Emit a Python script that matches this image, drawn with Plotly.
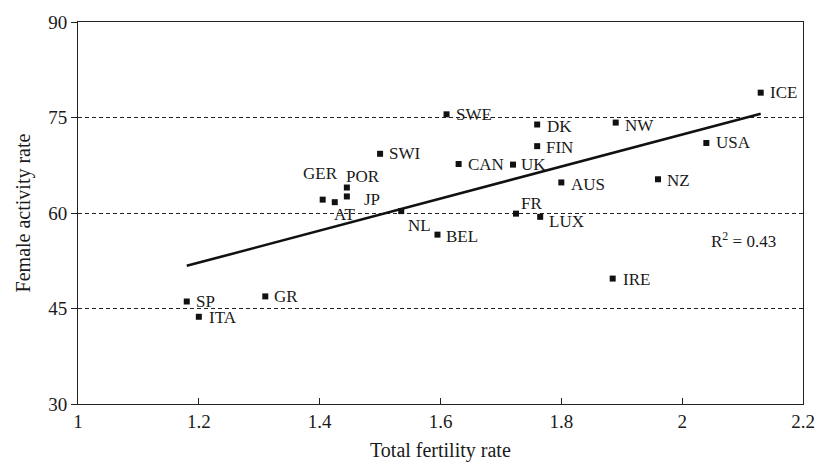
import plotly.graph_objects as go

# ---- data ----
countries = ["ICE", "SWE", "DK", "NW", "FIN", "USA", "SWI", "CAN", "UK", "AUS", "NZ",
             "POR", "JP", "GER", "AT", "NL", "FR", "LUX", "BEL", "IRE", "SP", "GR", "ITA"]
fertility = [2.13, 1.61, 1.76, 1.89, 1.76, 2.04, 1.50, 1.63, 1.72, 1.80, 1.96,
             1.445, 1.445, 1.405, 1.425, 1.535, 1.725, 1.765, 1.595, 1.885, 1.18, 1.31, 1.20]
activity = [78.9, 75.5, 73.9, 74.2, 70.5, 71.0, 69.3, 67.7, 67.6, 64.8, 65.3,
            64.0, 62.6, 62.1, 61.7, 60.3, 59.9, 59.4, 56.6, 49.7, 46.1, 46.9, 43.7]
fit_x = [1.18, 2.13]
fit_y = [51.7, 75.6]
r2_text = "R<sup>2</sup> = 0.43"
x_title = "Total fertility rate"
y_title = "Female activity rate"
x_ticks = [1, 1.2, 1.4, 1.6, 1.8, 2, 2.2]
x_tick_labels = ["1", "1.2", "1.4", "1.6", "1.8", "2", "2.2"]
y_ticks = [30, 45, 60, 75, 90]

# ---- label offsets (px): dx to text left edge, dy downward ----
offsets = {
    "ICE": (7, 0), "SWE": (7, 0), "DK": (8, 1.5), "NW": (7, 3), "FIN": (7, 1.5),
    "USA": (8, 0), "SWI": (7, 0), "CAN": (7, 1), "UK": (6, 0), "AUS": (8, 2),
    "NZ": (7, 1), "POR": (-3, -11), "JP": (15, 3), "GER": (-22, -26), "AT": (-3, 12),
    "NL": (5, 14), "FR": (3, -10), "LUX": (7, 5), "BEL": (7, 2), "IRE": (8, 1),
    "SP": (7, 0), "GR": (7, 0), "ITA": (8, 1),
}

FONT = "Liberation Serif, Times New Roman, serif"
TXT = "#1a1a1a"

fig = go.Figure()
fig.add_trace(go.Scatter(x=fit_x, y=fit_y, mode="lines",
                         line=dict(color="#111", width=2.6), hoverinfo="skip"))
fig.add_trace(go.Scatter(x=fertility, y=activity, mode="markers",
                         marker=dict(symbol="square", size=6, color="#111"),
                         text=countries, hoverinfo="text"))

annotations = []
for c, x, y in zip(countries, fertility, activity):
    dx, dy = offsets[c]
    annotations.append(dict(x=x, y=y, xref="x", yref="y", text=c, showarrow=False,
                            xanchor="left", yanchor="middle", xshift=dx, yshift=-dy,
                            font=dict(family=FONT, size=17, color=TXT)))
annotations.append(dict(x=2.045, y=55.8, xref="x", yref="y", text=r2_text, showarrow=False,
                        xanchor="left", yanchor="middle",
                        font=dict(family=FONT, size=17, color=TXT)))
annotations.append(dict(x=0.5, y=0, xref="paper", yref="paper", text=x_title,
                        showarrow=False, xanchor="center", yanchor="middle", yshift=-46,
                        font=dict(family=FONT, size=20, color=TXT)))

fig.update_layout(
    width=823, height=464,
    margin=dict(l=78, r=20, t=20, b=60),
    paper_bgcolor="white", plot_bgcolor="white",
    showlegend=False,
    font=dict(family=FONT, size=19, color=TXT),
    annotations=annotations,
    xaxis=dict(range=[1, 2.2], tickvals=x_ticks, ticktext=x_tick_labels,
               ticks="inside", ticklen=6, tickcolor="#222",
               showline=True, linecolor="#222", linewidth=1, mirror=True,
               showgrid=False, zeroline=False, automargin=False,
               tickfont=dict(family=FONT, size=19, color=TXT)),
    yaxis=dict(range=[30, 90], tickvals=y_ticks,
               ticks="outside", ticklen=6, tickcolor="#222",
               showline=True, linecolor="#222", linewidth=1, mirror=True,
               showgrid=True, gridcolor="#222", gridwidth=1, griddash="4px,3px",
               zeroline=False,
               tickfont=dict(family=FONT, size=19, color=TXT),
               title=dict(text=y_title, standoff=12,
                          font=dict(family=FONT, size=20, color=TXT))),
)

fig.write_html("out.html")
